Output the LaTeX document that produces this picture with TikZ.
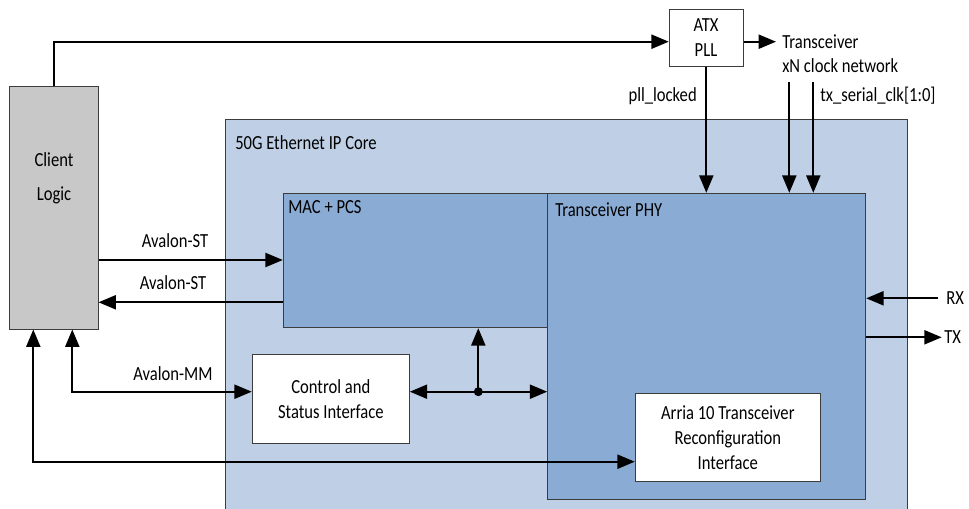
\documentclass[tikz,border=0pt]{standalone}
\usepackage{fontspec}
\setmainfont{Carlito}[FakeStretch=0.83]
\usetikzlibrary{arrows.meta,fit}
\definecolor{corefill}{HTML}{BFD0E6}
\definecolor{blkfill}{HTML}{8AACD4}
\definecolor{clientfill}{HTML}{C8C8C8}
\definecolor{edge}{HTML}{3C3C3C}
\begin{document}
\begin{tikzpicture}[x=0.75pt,y=-0.75pt,
  box/.style={draw=edge, line width=0.75pt, inner sep=0pt},
  tip/.tip={Triangle[length=13pt,width=10.5pt]},
  sig/.style={line width=1.5pt, -tip},
  sigboth/.style={line width=1.5pt, tip-tip},
  lbl/.style={font=\fontsize{15}{18.75}\selectfont, inner sep=0pt}]
\useasboundingbox (0,0) rectangle (969,509);

% boxes
\node[box, fill=corefill, fit={(225.7,120) (907.7,515)}] (core) {};
\node[box, fill=clientfill, fit={(9.5,87) (98,329)}] (client) {};
\node[box, fill=white, fit={(669.3,9.3) (743.3,66.7)}] (atx) {};
\node[box, fill=blkfill, fit={(283.3,193.3) (547.7,327.7)}] (mac) {};
\node[box, fill=blkfill, fit={(547.7,193.3) (865.7,499.3)}] (phy) {};
\node[box, fill=white, fit={(252.3,354.3) (409.3,443.3)}] (csr) {};
\node[box, fill=white, fit={(635.3,393.3) (820.3,481.7)}] (arria) {};

% texts
\node[lbl] (tclient1) at (54,160) {Client};
\node[lbl] (tclient2) at (54,195) {Logic};
\node[lbl, align=center] (tatx) at (706,38) {ATX\\PLL};
\node[lbl, anchor=west] (txcvr1) at (782,42) {Transceiver};
\node[lbl, anchor=west] (txcvr2) at (782,66) {xN clock network};
\node[lbl, anchor=east] (tpll) at (697,96) {pll\_locked};
\node[lbl, anchor=west] (tclk) at (820,96) {tx\_serial\_clk[1:0]};
\node[lbl, anchor=west] (tcore) at (235,143) {50G Ethernet IP Core};
\node[lbl, anchor=west] (tmac) at (288,207) {MAC + PCS};
\node[lbl, anchor=west] (tphy) at (555,210) {Transceiver PHY};
\node[lbl] (tst1) at (175,241) {Avalon-ST};
\node[lbl] (tst2) at (173,283) {Avalon-ST};
\node[lbl] (tmm) at (173,374) {Avalon-MM};
\node[lbl, align=center] (tcsr) at (csr.center) {Control and\\Status Interface};
\node[lbl, align=center] (tarria) at (arria.center) {Arria 10 Transceiver\\Reconfiguration\\Interface};
\node[lbl, anchor=west] (trx) at (946,298.3) {RX};
\node[lbl, anchor=west] (ttx) at (944,337.3) {TX};

% coordinates
\coordinate (atxin) at (669.3,41.7);
\coordinate (xcvr) at (776,41.7);
\coordinate (c1) at (789.3,82);
\coordinate (c2) at (813.3,82);
\coordinate (st1) at (0,260);
\coordinate (st2) at (0,302.3);
\coordinate (mm) at (72.3,391.7);
\coordinate (rc) at (33.3,461.7);
\coordinate (j) at (478.3,391.7);
\coordinate (rx) at (938,298.3);
\coordinate (tx) at (941.7,337.3);

% connectors
\draw[sig] (client.north) |- (atx.west |- atxin);
\draw[sig] (atx.east |- atxin) -- (xcvr);
\draw[sig] (atx.south) -- (atx.south |- phy.north);
\draw[sig] (c1) -- (c1 |- phy.north);
\draw[sig] (c2) -- (c2 |- phy.north);
\draw[sig] (client.east |- st1) -- (mac.west |- st1);
\draw[sig] (mac.west |- st2) -- (client.east |- st2);
\draw[sigboth] (client.south -| mm) |- (csr.west |- mm);
\draw[sigboth] (client.south -| rc) |- (arria.west |- rc);
\draw[sig] (j) -- (csr.east |- j);
\draw[sig] (j) -- (mac.south -| j);
\draw[sig] (j) -- (phy.west |- j);
\fill (j) circle (4.5);
\draw[sig] (rx) -- (phy.east |- rx);
\draw[sig] (phy.east |- tx) -- (tx);
\end{tikzpicture}
\end{document}
